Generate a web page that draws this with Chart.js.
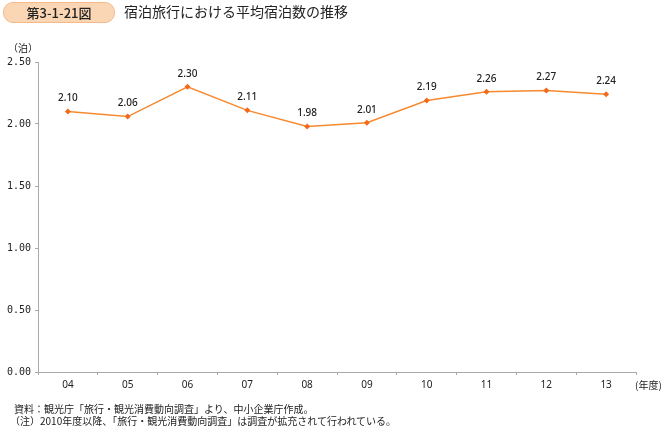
<!DOCTYPE html>
<html>
<head>
<meta charset="utf-8">
<script src="https://cdn.jsdelivr.net/npm/chart.js@4"></script>
<style>
  body { margin: 0; background: #fff; font-family: "Noto Sans CJK JP", sans-serif; }
  #wrap { position: relative; width: 666px; height: 426px; overflow: hidden; }
  #badge { position: absolute; left: 3px; top: 2px; width: 110px; height: 19px; background: #fbd6b4;
    border: 1px solid #f4b98a; border-radius: 10px; font-size: 13px; font-weight: 500; line-height: 19px; text-align: center; color: #222; }
  #title { position: absolute; left: 124px; top: 2px; font-size: 14px; line-height: 19px; color: #222; }
  .note { position: absolute; left: 14px; font-size: 10px; line-height: 12px; color: #222; white-space: nowrap; }
  .unit { position: absolute; font-size: 10px; color: #222; white-space: nowrap; }
  #chartBox { position: absolute; left: 0; top: 0; width: 666px; height: 426px; }
</style>
</head>
<body>
<div id="wrap">
  <div id="chartBox"><canvas id="lineChart" width="666" height="426"></canvas></div>
  <div id="badge">第3-1-21図</div>
  <div id="title">宿泊旅行における平均宿泊数の推移</div>
  <div class="unit" style="left:8px; top:40px;">（泊）</div>
  <div class="unit" style="left:635px; top:377px;">(年度)</div>
  <div class="note" style="top:403px;">資料：観光庁「旅行・観光消費動向調査」より、中小企業庁作成。</div>
  <div class="note" style="top:415px; left:10px;">（注）2010年度以降、「旅行・観光消費動向調査」は調査が拡充されて行われている。</div>
</div>
<script>
var years = ['04', '05', '06', '07', '08', '09', '10', '11', '12', '13'];
var nights = [2.10, 2.06, 2.30, 2.11, 1.98, 2.01, 2.19, 2.26, 2.27, 2.24];
var yTicks = [0, 0.5, 1.0, 1.5, 2.0, 2.5];

var valueLabels = {
  id: 'valueLabels',
  afterDatasetsDraw: function(chart){
    var ctx = chart.ctx;
    var meta = chart.getDatasetMeta(0);
    ctx.save();
    ctx.font = '500 10px "Noto Sans", sans-serif';
    ctx.fillStyle = '#222';
    ctx.textAlign = 'center';
    ctx.textBaseline = 'bottom';
    meta.data.forEach(function(pt, i){
      ctx.fillText(nights[i].toFixed(2), pt.x, pt.y - 8);
    });
    ctx.restore();
  }
};

var ctx = document.getElementById('lineChart').getContext('2d');
var lineChart = new Chart(ctx, {
  type: 'line',
  data: {
    labels: years,
    datasets: [{
      data: nights,
      borderColor: '#f7892f',
      borderWidth: 1.5,
      backgroundColor: '#f26b1d',
      pointStyle: 'rectRot',
      pointRadius: 3,
      pointBorderWidth: 0,
      tension: 0,
      fill: false
    }]
  },
  options: {
    responsive: false,
    animation: false,
    layout: { padding: { left: 0, right: 30, top: 62, bottom: 0 } },
    plugins: { legend: { display: false }, tooltip: { enabled: false } },
    scales: {
      x: {
        offset: true,
        afterFit: function(s){ s.height = 54; },
        grid: { offset: true, drawOnChartArea: false, color: '#aaa', tickLength: 3 },
        border: { color: '#aaa' },
        ticks: { color: '#222', font: { size: 10, family: '"Noto Sans", sans-serif' }, padding: 4 }
      },
      y: {
        min: 0,
        max: 2.5,
        afterFit: function(s){ s.width = 38; },
        afterBuildTicks: function(s){ s.ticks = yTicks.map(function(v){ return { value: v }; }); },
        grid: { drawOnChartArea: false, color: '#aaa', tickLength: 3 },
        border: { color: '#aaa' },
        ticks: {
          color: '#222',
          font: { size: 10, family: '"DejaVu Sans Mono", monospace' },
          padding: 4,
          callback: function(v){ return Number(v).toFixed(2); }
        }
      }
    }
  },
  plugins: [valueLabels]
});
</script>
</body>
</html>
